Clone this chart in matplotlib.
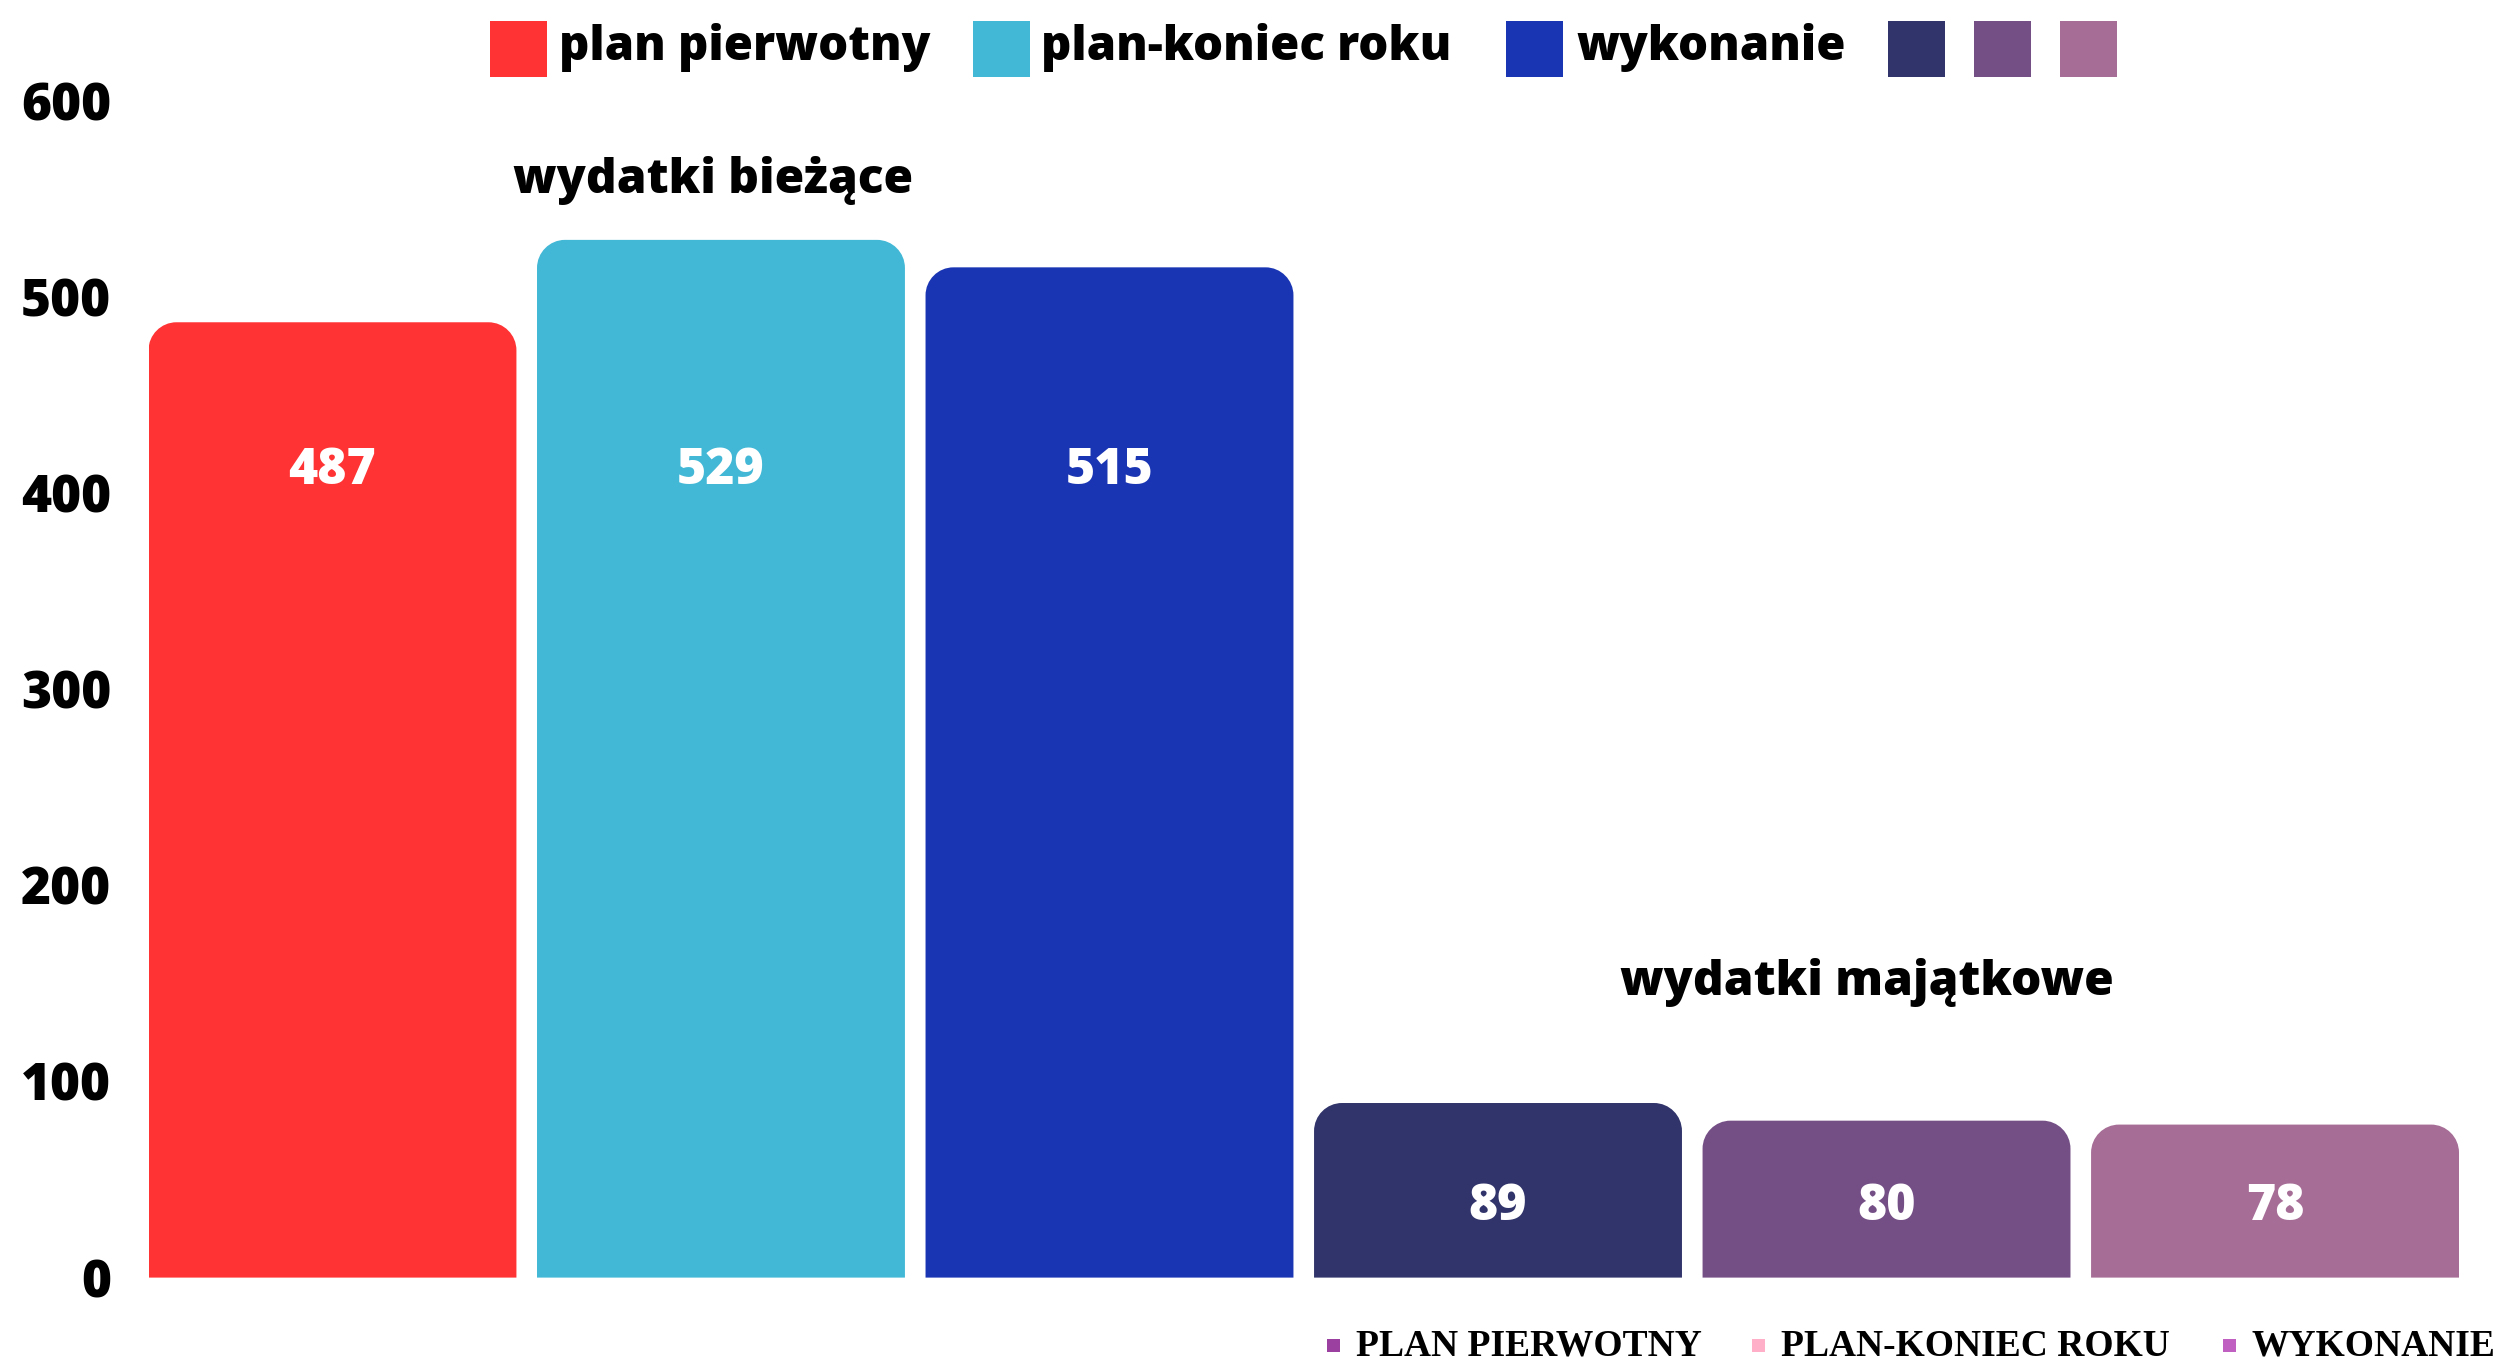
import matplotlib
matplotlib.use("Agg")
import matplotlib.pyplot as plt
from matplotlib.path import Path
from matplotlib.patches import PathPatch, Rectangle

# ---- data ----
categories = ["wydatki bieżące", "wydatki majątkowe"]
series_top = ["plan pierwotny", "plan-koniec roku", "wykonanie"]
values = [487, 529, 515, 89, 80, 78]
bar_colors = ["#FF3333", "#42B8D6", "#1A35B3", "#31346A", "#744F86", "#A66D96"]
yticks = [0, 100, 200, 300, 400, 500, 600]
bottom_legend = ["PLAN PIERWOTNY", "PLAN-KONIEC ROKU", "WYKONANIE"]
bottom_colors = ["#9B3FA0", "#FFB0C8", "#C060C0"]

W, H = 2504, 1360
FONT = ["Open Sans", "DejaVu Sans"]
fig = plt.figure(figsize=(W / 100, H / 100), dpi=100)
ax = fig.add_axes([148.5 / W, 1 - 1277.6 / H, (2459 - 148.5) / W, (1277.6 - 100.6) / H])

xs = list(range(len(values)))
bars = ax.bar(xs, values, width=0.947, color=bar_colors)
ax.set_xlim(-0.4735, 5.4735)
ax.set_ylim(0, 600)

# rounded-top bars
rx = 0.072
ry = 14.3
k = 0.5523
for b in bars:
    x0, w, h = b.get_x(), b.get_width(), b.get_height()
    x1 = x0 + w
    verts = [
        (x0, 0), (x0, h - ry),
        (x0, h - ry + k * ry), (x0 + rx - k * rx, h), (x0 + rx, h),
        (x1 - rx, h),
        (x1 - rx + k * rx, h), (x1, h - ry + k * ry), (x1, h - ry),
        (x1, 0), (x0, 0),
    ]
    codes = [Path.MOVETO, Path.LINETO,
             Path.CURVE4, Path.CURVE4, Path.CURVE4,
             Path.LINETO,
             Path.CURVE4, Path.CURVE4, Path.CURVE4,
             Path.LINETO, Path.CLOSEPOLY]
    ax.add_patch(PathPatch(Path(verts, codes), facecolor=b.get_facecolor(),
                           edgecolor="none", linewidth=0))
    b.set_visible(False)

# value labels
label_y = [411, 411, 411, 36, 36, 36]
for x, v, ly in zip(xs, values, label_y):
    ax.text(x, ly, str(v), ha="center", va="center", color="white",
            fontsize=36, fontweight="heavy", family=FONT)

# group labels
ax.text(0.98, 559.5, categories[0], ha="center", va="center", color="black",
        fontsize=34.5, fontweight="heavy", family=FONT)
ax.text(3.95, 150.6, categories[1], ha="center", va="center", color="black",
        fontsize=34.5, fontweight="heavy", family=FONT)

ax.set_yticks(yticks)
ax.set_yticklabels([str(t) for t in yticks], fontsize=37, fontweight="heavy", family=FONT)
ax.tick_params(axis="y", length=0, pad=27)
ax.set_xticks([])
for s in ax.spines.values():
    s.set_visible(False)

# top legend (drawn in figure pixels)
def fx(px):
    return px / W

def fy(py):
    return 1 - py / H

sq_x = [490, 973, 1506, 1888, 1974, 2060]
txt_x = [559, 1041, 1576]
for i, c in enumerate(bar_colors):
    fig.patches.append(Rectangle((fx(sq_x[i]), fy(77)), 57 / W, 56 / H,
                                 transform=fig.transFigure, facecolor=c, edgecolor="none"))
for i, t in enumerate(series_top):
    fig.text(fx(txt_x[i]), fy(47), t, ha="left", va="center", fontsize=34,
             fontweight="heavy", family=FONT, color="black")

# bottom legend
bsq_x = [1327, 1752, 2223]
btxt_x = [1356, 1781, 2252]
for i, (t, c) in enumerate(zip(bottom_legend, bottom_colors)):
    fig.patches.append(Rectangle((fx(bsq_x[i]), fy(1352)), 13 / W, 13 / H,
                                 transform=fig.transFigure, facecolor=c, edgecolor="none"))
    fig.text(fx(btxt_x[i]), fy(1346), t, ha="left", va="center", fontsize=27,
             fontweight="bold", family=["Liberation Serif", "DejaVu Serif"], color="black")

fig.savefig("out.png", dpi=100, facecolor="white")
